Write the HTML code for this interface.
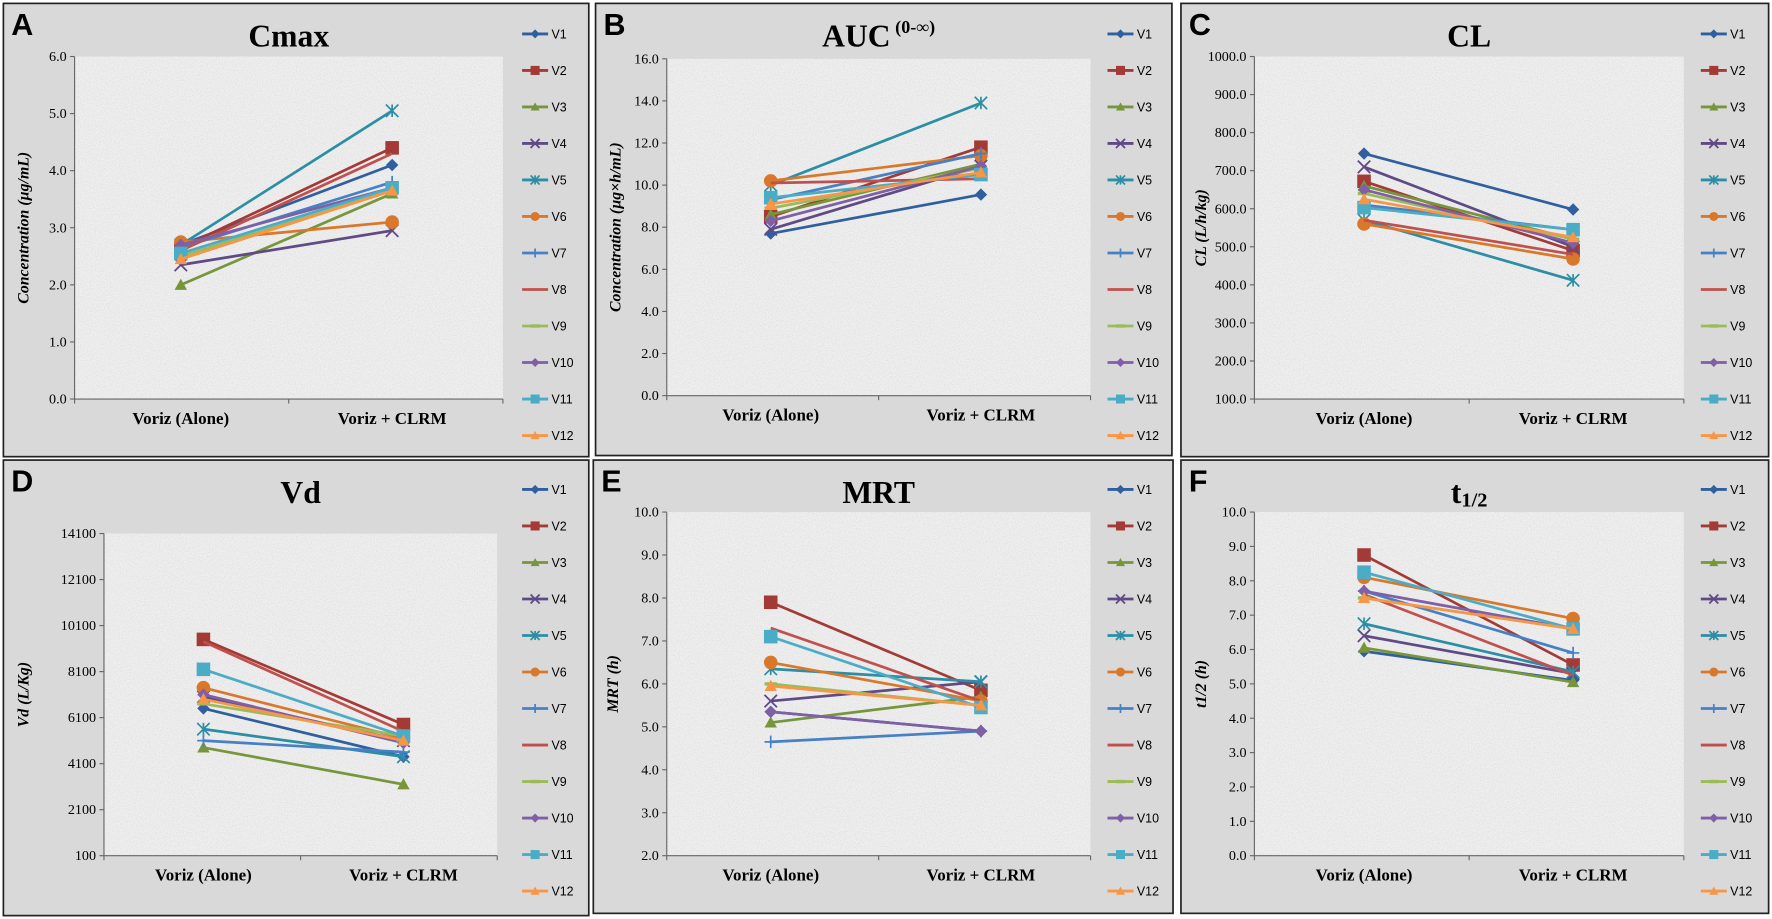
<!DOCTYPE html>
<html><head><meta charset="utf-8"><style>
html,body{margin:0;padding:0;background:#fff;}
svg{display:block;}
text{font-family:"Liberation Serif",serif;}
.lg{font-family:"Liberation Sans",sans-serif;font-size:11px;fill:#000;}
.let{font-family:"Liberation Sans",sans-serif;}
</style></head><body>
<svg id="fig" width="1772" height="919" viewBox="0 0 1568 813" preserveAspectRatio="none" xmlns="http://www.w3.org/2000/svg">
<defs>
<filter id="noise" x="0" y="0" width="100%" height="100%">
<feTurbulence type="fractalNoise" baseFrequency="0.9" numOctaves="2" seed="3"/>
<feColorMatrix type="matrix" values="0 0 0 0 0.55  0 0 0 0 0.55  0 0 0 0 0.55  0 0 0 -1.2 0.75"/>
</filter>
</defs>
</svg>
<script>
const categories = ["Voriz (Alone)", "Voriz + CLRM"];
const seriesNames = ["V1","V2","V3","V4","V5","V6","V7","V8","V9","V10","V11","V12"];
const cmaxAlone = [2.7,2.65,2.0,2.35,2.7,2.75,2.65,2.6,2.5,2.7,2.55,2.45];
const cmaxClrm  = [4.1,4.4,3.6,2.95,5.05,3.1,3.8,4.3,3.65,3.7,3.7,3.65];
const aucAlone = [7.7,8.5,8.6,7.9,10.0,10.2,9.3,10.1,8.9,8.3,9.4,9.1];
const aucClrm  = [9.55,11.8,11.0,10.9,13.9,11.4,11.5,10.3,10.8,10.9,10.5,10.6];
const clAlone = [745,672,660,710,570,560,610,570,640,650,603,625];
const clClrm  = [598,490,520,500,412,468,545,480,520,510,545,525];
const vdAlone = [6500,9500,4800,7000,5600,7400,5100,9400,6700,7100,8200,6900];
const vdClrm  = [4400,5800,3200,5100,4400,5200,4600,5500,5300,5000,5300,5100];
const mrtAlone = [5.35,7.9,5.1,5.6,6.35,6.5,4.65,7.3,6.0,5.35,7.1,5.95];
const mrtClrm  = [4.9,5.85,5.7,6.05,6.05,5.6,4.9,5.6,5.5,4.9,5.45,5.5];
const thalfAlone = [5.95,8.75,6.05,6.4,6.75,8.1,7.7,7.6,7.5,7.7,8.25,7.5];
const thalfClrm  = [5.1,5.55,5.05,5.3,5.35,6.9,5.9,5.25,6.6,6.6,6.6,6.6];
const cmaxTicks = [0,1,2,3,4,5,6];
const aucTicks = [0,2,4,6,8,10,12,14,16];
const clTicks = [100,200,300,400,500,600,700,800,900,1000];
const vdTicks = [100,2100,4100,6100,8100,10100,12100,14100];
const mrtTicks = [2,3,4,5,6,7,8,9,10];
const thalfTicks = [0,1,2,3,4,5,6,7,8,9,10];

const colors = ["#2f5f9e","#a33a36","#77963c","#5f4a85","#2b8ea5","#d9782b","#4680c5","#c0504d","#9bbb59","#7f5fa5","#4bacc6","#f79646"];
const markers = ["diamond","square","triangle","x","star","circle","plus","none","dash","diamond","square","triangle"];

const NS = "http://www.w3.org/2000/svg";
const svg = document.getElementById("fig");
function mk(tag, attrs, parent){const e=document.createElementNS(NS,tag);for(const k in attrs)e.setAttribute(k,attrs[k]);(parent||svg).appendChild(e);return e;}

function marker(g, type, x, y, c, s){
  let e;
  if(type==="diamond"){e=mk("polygon",{points:`${x},${y-s} ${x+s},${y} ${x},${y+s} ${x-s},${y}`,fill:c},g);}
  else if(type==="square"){e=mk("rect",{x:x-s,y:y-s,width:2*s,height:2*s,fill:c},g);}
  else if(type==="triangle"){e=mk("polygon",{points:`${x},${y-s} ${x+s},${y+s*0.8} ${x-s},${y+s*0.8}`,fill:c},g);}
  else if(type==="circle"){e=mk("circle",{cx:x,cy:y,r:s,fill:c},g);}
  else if(type==="x"){e=mk("path",{d:`M${x-s} ${y-s}L${x+s} ${y+s}M${x-s} ${y+s}L${x+s} ${y-s}`,stroke:c,"stroke-width":1.6,fill:"none"},g);}
  else if(type==="star"){e=mk("path",{d:`M${x-s} ${y-s}L${x+s} ${y+s}M${x-s} ${y+s}L${x+s} ${y-s}M${x} ${y-s}L${x} ${y+s}`,stroke:c,"stroke-width":1.5,fill:"none"},g);}
  else if(type==="plus"){e=mk("path",{d:`M${x-s} ${y}L${x+s} ${y}M${x} ${y-s}L${x} ${y+s}`,stroke:c,"stroke-width":1.5,fill:"none"},g);}
  else if(type==="dash"){e=mk("path",{d:`M${x-s} ${y}L${x+s} ${y}`,stroke:c,"stroke-width":3,fill:"none"},g);}
  if(e){
  }
}

const panels = [
 {id:"A",title:"Cmax",sup:"",sub:"",ytitle:"Concentration (µg/mL)",box:[3,3,518,401],plot:[66,50,445,353],ticks:cmaxTicks,dec:1,a:cmaxAlone,b:cmaxClrm,cx:[160,347],leg:462,ly:30},
 {id:"B",title:"AUC",sup:" (0-∞)",sub:"",ytitle:"Concentration (µg×h/mL)",box:[527,3,510,400],plot:[590,52,965,350],ticks:aucTicks,dec:1,a:aucAlone,b:aucClrm,cx:[682,868],leg:980,ly:30},
 {id:"C",title:"CL",sup:"",sub:"",ytitle:"CL (L/h/kg)",box:[1045,3,520,401],plot:[1110,50,1490,353],ticks:clTicks,dec:1,a:clAlone,b:clClrm,cx:[1207,1392],leg:1505,ly:30},
 {id:"D",title:"Vd",sup:"",sub:"",ytitle:"Vd (L/Kg)",box:[3,407,518,403],plot:[92,472,440,757],ticks:vdTicks,dec:0,a:vdAlone,b:vdClrm,cx:[180,357],leg:462,ly:433},
 {id:"E",title:"MRT",sup:"",sub:"",ytitle:"MRT (h)",box:[525,407,513,401],plot:[590,453,965,757],ticks:mrtTicks,dec:1,a:mrtAlone,b:mrtClrm,cx:[682,868],leg:980,ly:433},
 {id:"F",title:"t",sup:"",sub:"1/2",ytitle:"t1/2 (h)",box:[1045,407,520,401],plot:[1110,453,1490,757],ticks:thalfTicks,dec:1,a:thalfAlone,b:thalfClrm,cx:[1207,1392],leg:1505,ly:433}
];

panels.forEach(p=>{
  const g=mk("g",{});
  
  
  const [bx,by,bw,bh]=p.box;
  const bg=mk("rect",{x:bx,y:by,width:bw,height:bh,fill:"#d9d9d9",stroke:"#222","stroke-width":1.5},g);
  
  
  const [x0,y0,x1,y1]=p.plot;
  const pa=mk("rect",{x:x0,y:y0,width:x1-x0,height:y1-y0,fill:"#efefef"},g);
  
  
  mk("rect",{x:x0,y:y0,width:x1-x0,height:y1-y0,filter:"url(#noise)",opacity:0.6},g);
  const lbl=mk("text",{x:bx+7,y:by+28,"font-size":27,"font-weight":"bold",class:"let"},g);
  lbl.textContent=p.id;
  
  
  const tcx=(x0+x1)/2;
  const t=mk("text",{x:tcx,y:by+38,"font-size":28,"font-weight":"bold","text-anchor":"middle"},g);
  t.textContent=p.title;
  if(p.sup){const s=mk("tspan",{"font-size":16,dy:-12},t);s.textContent=p.sup;}
  if(p.sub){const s=mk("tspan",{"font-size":18,dy:3},t);s.textContent=p.sub;}
  
  
  const lo=p.ticks[0],hi=p.ticks[p.ticks.length-1];
  const ys=v=>y1-(v-lo)/(hi-lo)*(y1-y0);
  const xs=i=>p.cx[i];
  mk("line",{x1:x0,y1:y0,x2:x0,y2:y1,stroke:"#666","stroke-width":1},g);
  mk("line",{x1:x0,y1:y1,x2:x1,y2:y1,stroke:"#666","stroke-width":1},g);
  p.ticks.forEach(v=>{
    mk("line",{x1:x0-4,y1:ys(v),x2:x0,y2:ys(v),stroke:"#666"},g);
    const tt=mk("text",{x:x0-7,y:ys(v)+4,"font-size":12.5,"text-anchor":"end"},g);
    tt.textContent=v.toFixed(p.dec);
    
    
  });
  [x0,(x0+x1)/2,x1].forEach(x=>mk("line",{x1:x,y1:y1,x2:x,y2:y1+4,stroke:"#666"},g));
  categories.forEach((c,i)=>{
    const ct=mk("text",{x:xs(i),y:y1+22,"font-size":15,"font-weight":"bold","text-anchor":"middle"},g);
    ct.textContent=c;
    
    
  });
  const yt=mk("text",{transform:`translate(${bx+22},${(y0+y1)/2}) rotate(-90)`,"font-size":14,"font-weight":"bold","font-style":"italic","text-anchor":"middle"},g);
  yt.textContent=p.ytitle;
  
  
  seriesNames.forEach((n,i)=>{
    const sg=mk("g",{},g);
    
    
    mk("line",{x1:xs(0),y1:ys(p.a[i]),x2:xs(1),y2:ys(p.b[i]),stroke:colors[i],"stroke-width":2.4},sg);
    const sz=(markers[i]==="square"||markers[i]==="circle")?6:5.5;
    marker(sg,markers[i],xs(0),ys(p.a[i]),colors[i],sz);
    marker(sg,markers[i],xs(1),ys(p.b[i]),colors[i],sz);
    const ly=p.ly+i*32.3;
    const lgg=mk("g",{},g);
    
    
    mk("line",{x1:p.leg,y1:ly,x2:p.leg+23,y2:ly,stroke:colors[i],"stroke-width":2.5},lgg);
    marker(lgg,markers[i],p.leg+11.5,ly,colors[i],4);
    const lt=mk("text",{x:p.leg+26,y:ly+4,class:"lg"},lgg);
    lt.textContent=n;
  });
});
</script>
</body></html>
